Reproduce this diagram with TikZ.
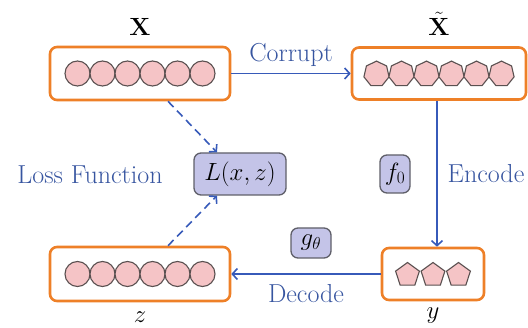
\documentclass[tikz,border=0pt]{standalone}
\usepackage{amsmath}
\usetikzlibrary{shapes.geometric,arrows.meta}
\definecolor{orangeb}{RGB}{238,128,40}
\definecolor{pinkf}{RGB}{245,196,198}
\definecolor{shapeb}{RGB}{90,80,80}
\definecolor{bluet}{RGB}{55,85,160}
\definecolor{bluea}{RGB}{55,90,185}
\definecolor{lavf}{RGB}{196,196,232}
\definecolor{lavb}{RGB}{95,95,105}
\tikzset{
  vecbox/.style={draw=orangeb,line width=2.6pt,rounded corners=7pt,fill=white,inner sep=0pt},
  circ/.style={circle,draw=shapeb,fill=pinkf,line width=1.1pt,minimum size=25pt,inner sep=0pt},
  hepta/.style={regular polygon,regular polygon sides=7,draw=shapeb,fill=pinkf,line width=1.1pt,minimum size=25.8pt,inner sep=0pt},
  penta/.style={regular polygon,regular polygon sides=5,draw=shapeb,fill=pinkf,line width=1.1pt,minimum size=25pt,inner sep=0pt},
  fbox/.style={draw=lavb,fill=lavf,line width=1.3pt,rounded corners=7pt,inner sep=0pt},
  lbl/.style={text=bluet},
  arr/.style={draw=bluea,line width=1.6pt,-{Straight Barb[length=5pt,width=11pt,line width=1.6pt]}},
  darr/.style={arr,dash pattern=on 8pt off 5pt},
}
\begin{document}
\begin{tikzpicture}[x=1pt,y=-1pt,font=\fontsize{26}{31}\selectfont]
\useasboundingbox (0,0) rectangle (528,328);
% boxes
\node[vecbox,minimum width=180pt,minimum height=53pt] (xbox) at (140,73.5) {};
\node[vecbox,minimum width=174pt,minimum height=52pt] (xtbox) at (439,73.5) {};
\node[vecbox,minimum width=102pt,minimum height=52pt] (ybox) at (433,274) {};
\node[vecbox,minimum width=180pt,minimum height=54pt] (zbox) at (140,274) {};
% contents
\foreach \i in {0,...,5} {
  \node[circ] (xc\i) at ({77.5+25*\i},73.5) {};
  \node[hepta] (xh\i) at ({376.5+25*\i},74) {};
  \node[circ] (zc\i) at ({77.5+25*\i},274) {};
}
\foreach \i in {0,1,2} {
  \node[penta] (yp\i) at ({407.5+25.5*\i},275) {};
}
% labels
\node (xl) at (140,27) {$\mathbf{X}$};
\node (xtl) at (439,24) {$\tilde{\mathbf{X}}$};
\node (zl) at (140,317) {$z$};
\node (yl) at (433,316) {$y$};
% function boxes
\node[fbox,minimum width=92pt,minimum height=42pt] (lbox) at (240,174) {$L(x,z)$};
\node[fbox,minimum width=30pt,minimum height=38pt] (fb) at (395,174) {$f_0$};
\node[fbox,minimum width=40pt,minimum height=30pt] (gb) at (311,243) {$g_\theta$};
% arrows
\draw[arr] (xbox.east) -- (xtbox.west) node[lbl,midway,above=3pt] (corr) {Corrupt};
\draw[arr] ([xshift=-2pt]xtbox.south) -- ([xshift=4pt]ybox.north) coordinate (encend);
\node[lbl] (enc) at (486,174) {Encode};
\draw[arr] (ybox.west) -- (zbox.east);
\node[lbl] (dec) at (306,294) {Decode};
\node[lbl] (loss) at (90,175) {Loss Function};
\draw[darr] ([xshift=28pt]xbox.south) -- ([xshift=-23pt]lbox.north);
\draw[darr] ([xshift=28pt]zbox.north) -- ([xshift=-23pt]lbox.south);
\end{tikzpicture}
\end{document}
